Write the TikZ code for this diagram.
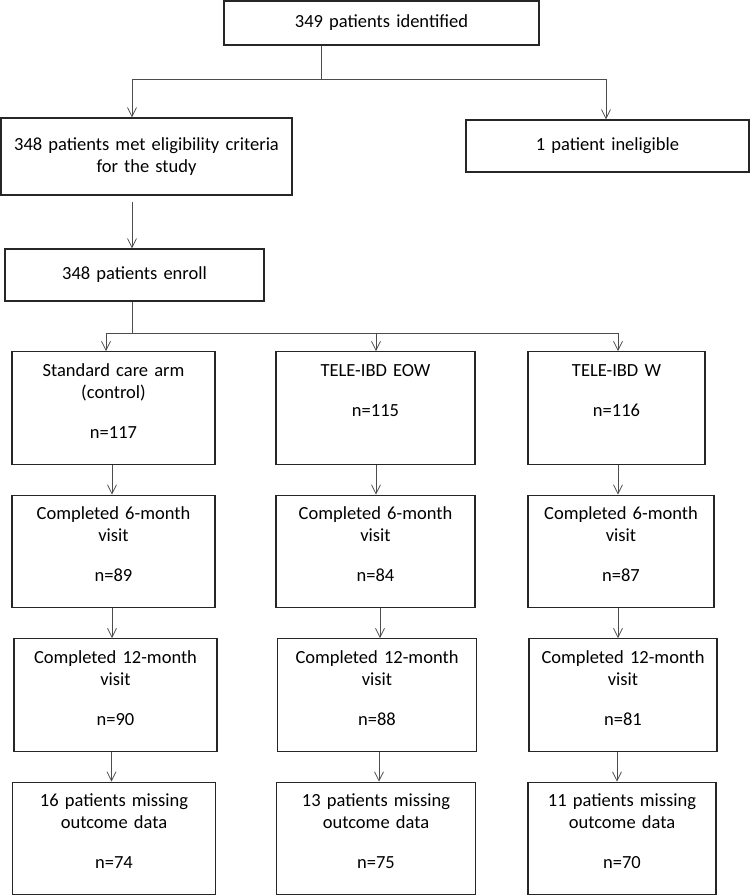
\documentclass[tikz,border=0pt]{standalone}
\usepackage{fontspec}
\setmainfont{Carlito}
\usepackage{tikz}
\usetikzlibrary{positioning, arrows.meta}
\tikzstyle{box} = [rectangle, draw=black!85, line width=1.1pt, align=center, inner sep=0pt, font=\fontsize{18.5}{22}\selectfont]
\tikzstyle{arm} = [box, text height=24.5pt, text depth=88pt]
\tikzstyle{conn} = [draw=black!70, line width=0.8pt]
\tikzstyle{arrow} = [conn, -{Straight Barb[length=9pt,width=9pt]}]

\begin{document}
\begin{tikzpicture}[x=1pt, y=-1pt, node distance=143.5pt]
\useasboundingbox (0,0) rectangle (750,895);
\node (ident) [box, text width=315pt, minimum height=44pt] at (381.5,23) {349 patients identified};
\node (elig) [box, text width=291pt, minimum height=77pt] at (146.5,156.5) {348 patients met eligibility criteria\\for the study};
\node (inelig) [box, text width=283pt, minimum height=52pt] at (607.5,146) {1 patient ineligible};
\node (enroll) [box, text width=259pt, minimum height=52pt] at (134.5,275) {348 patients enroll};

% arms
\node (std) [arm, text width=203pt] at (113.5,408) {Standard care arm\\(control)\\[18pt]n=117};
\node (eow) [arm, text width=199pt] at (375.5,408) {TELE-IBD EOW\\[18pt]n=115};
\node (wk) [arm, text width=177pt] at (616.5,408) {TELE-IBD W\\[18pt]n=116};

\node (std6) [arm, text width=203pt, below of=std] {Completed 6-month\\visit\\[18pt]n=89};
\node (eow6) [arm, text width=199pt, below of=eow] {Completed 6-month\\visit\\[18pt]n=84};
\node (wk6) [arm, text width=186pt, below of=wk, xshift=4.5pt] {Completed 6-month\\visit\\[18pt]n=87};

\node (std12) [arm, text width=203pt, below of=std6, xshift=2pt] {Completed 12-month\\visit\\[18pt]n=90};
\node (eow12) [arm, text width=199pt, below of=eow6, xshift=1.5pt] {Completed 12-month\\visit\\[18pt]n=88};
\node (wk12) [arm, text width=188pt, below of=wk6, xshift=2pt] {Completed 12-month\\visit\\[18pt]n=81};

\node (stdmiss) [arm, text width=203.5pt, below of=std12, xshift=-1.5pt] {16 patients missing\\outcome data\\[18pt]n=74};
\node (eowmiss) [arm, text width=199pt, below of=eow12, xshift=-1pt] {13 patients missing\\outcome data\\[18pt]n=75};
\node (wkmiss) [arm, text width=188pt, below of=wk12, xshift=-1pt] {11 patients missing\\outcome data\\[18pt]n=70};

\coordinate (hub1) at (321,79);
\coordinate (hub2) at (132,333);

\draw [conn] (ident.south -| hub1) -- (hub1);
\draw [arrow] (hub1) -| ([xshift=-14.5pt]elig.north);
\draw [arrow] (hub1) -| ([xshift=-1.5pt]inelig.north);
\draw [arrow] ([xshift=-14.5pt,yshift=-6pt]elig.south) -- ([xshift=-2.5pt]enroll.north);

\draw [conn] (enroll.south -| hub2) -- (hub2);
\draw [arrow] (hub2) -| ([xshift=-7.5pt]std.north);
\draw [arrow] (hub2) -| ([xshift=0.5pt]eow.north);
\draw [arrow] (hub2) -| ([xshift=1.5pt]wk.north);

\draw [arrow] (std.south -| 112,0) -- (std6.north -| 112,0);
\draw [arrow] (eow.south -| 376,0) -- (eow6.north -| 376,0);
\draw [arrow] (wk.south -| 618,0) -- (wk6.north -| 618,0);

\draw [arrow] (std6.south -| 112,0) -- (std12.north -| 112,0);
\draw [arrow] (eow6.south -| 380,0) -- (eow12.north -| 380,0);
\draw [arrow] (wk6.south -| 618,0) -- (wk12.north -| 618,0);

\draw [arrow] (std12.south -| 111.5,0) -- (stdmiss.north -| 111.5,0);
\draw [arrow] (eow12.south -| 379,0) -- (eowmiss.north -| 379,0);
\draw [arrow] (wk12.south -| 617,0) -- (wkmiss.north -| 617,0);
\end{tikzpicture}
\end{document}
